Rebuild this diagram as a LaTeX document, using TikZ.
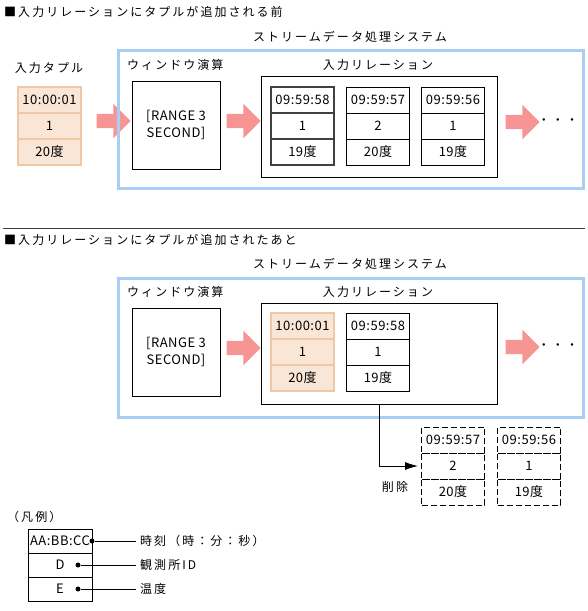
\documentclass[tikz,border=0pt]{standalone}
\usepackage{fontspec}
\setmainfont{Noto Sans CJK JP}[LetterSpace=4]
\newfontfamily\jpwide{Noto Sans CJK JP}[LetterSpace=17]
\usetikzlibrary{arrows.meta}
\usetikzlibrary{shapes.arrows}

\definecolor{sysblue}{HTML}{A9CEF4}
\definecolor{arrowpink}{HTML}{F79595}
\definecolor{newfill}{HTML}{F9E6D6}
\definecolor{newdraw}{HTML}{F0C8A6}

\begin{document}
\begin{tikzpicture}[x = 1pt, y = -1pt, font = \fontsize{13}{15}\selectfont]
	\tikzstyle{titleStyle} = [anchor = west, inner sep = 0pt, font = \jpwide\fontsize{12}{14}\selectfont]
	\tikzstyle{labelStyle} = [inner sep = 0pt, font = \jpwide\fontsize{12}{14}\selectfont]
	\tikzstyle{keyLabel} = [anchor = west, inner sep = 4pt, font = \jpwide\fontsize{12}{14}\selectfont]
	\tikzstyle{sysStyle} = [draw = sysblue, line width = 3pt, minimum width = 465pt, minimum height = 138pt, inner sep = 0pt]
	\tikzstyle{opStyle} = [draw, line width = 1pt, minimum width = 88pt, minimum height = 88pt, inner sep = 0pt, align = center, font = \fontsize{13}{16.5}\selectfont]
	\tikzstyle{relStyle} = [draw, line width = 1pt, minimum width = 236pt, minimum height = 101pt, inner sep = 0pt]
	\tikzstyle{cell} = [draw, line width = 0.9pt, minimum width = 63pt, minimum height = 26pt, inner sep = 0pt]
	\tikzstyle{firstCell} = [cell, draw = black!75, line width = 1.4pt]
	\tikzstyle{newCell} = [cell, draw = newdraw, fill = newfill, line width = 1.2pt]
	\tikzstyle{oldCell} = [cell, dash pattern = on 6pt off 3pt, line width = 1pt]
	\tikzstyle{keyCell} = [cell, minimum width = 64pt, minimum height = 24pt]
	\tikzstyle{bigArrow} = [single arrow, fill = arrowpink, draw = none, inner sep = 7pt, minimum height = 34pt, single arrow head extend = 10pt]
	\tikzstyle{dotStyle} = [circle, fill, inner sep = 0pt, minimum size = 5pt]
	\tikzstyle{delArrow} = [line width = 0.9pt, -{Latex[length = 13pt, width = 8pt]}, shorten > = 3pt]
	\useasboundingbox (0,0) rectangle (588,611);

	\node[titleStyle] (title1) at (4,12) {■入力リレーションにタプルが追加される前};
	\node[labelStyle] (sysLabel1) at (350,37) {ストリームデータ処理システム};
	\node[labelStyle] (inLabel) at (49,68) {入力タプル};
	\node[newCell] (in1) at (49.5,100) {10:00:01};
	\node[newCell] (in2) at (49.5,126) {1};
	\node[newCell] (in3) at (49.5,152) {20度};
	\node[bigArrow] (arrow1) at (110,121) {};
	\node[sysStyle] (sys1) at (350.5,119) {};
	\node[labelStyle, anchor = west] (winLabel1) at (127,65) {ウィンドウ演算};
	\node[opStyle] (win1) at (176,125) {[RANGE 3\\SECOND]};
	\node[bigArrow] (arrow2) at (240,121) {};
	\node[labelStyle] (relLabel1) at (378,65) {入力リレーション};
	\node[relStyle] (rel1) at (379,126.5) {};
	\node[firstCell] (t1a) at (302.5,100) {09:59:58};
	\node[firstCell] (t1b) at (302.5,126) {1};
	\node[firstCell] (t1c) at (302.5,152) {19度};
	\node[cell] (t2a) at (378,100) {09:59:57};
	\node[cell] (t2b) at (378,126) {2};
	\node[cell] (t2c) at (378,152) {20度};
	\node[cell] (t3a) at (453,100) {09:59:56};
	\node[cell] (t3b) at (453,126) {1};
	\node[cell] (t3c) at (453,152) {19度};
	\node[bigArrow] (arrow3) at (519,122) {};
	\node[labelStyle] (more1) at (558,122) {・・・};

	\coordinate (sepL) at (3,228);
	\coordinate (sepR) at (585,228);
	\draw[line width = 1pt, black!75] (sepL) -- (sepR);

	\node[titleStyle] (title2) at (4,240) {■入力リレーションにタプルが追加されたあと};
	\node[labelStyle] (sysLabel2) at (350,264) {ストリームデータ処理システム};
	\node[sysStyle, minimum height = 139pt] (sys2) at (350.5,347.5) {};
	\node[labelStyle, anchor = west] (winLabel2) at (127,292) {ウィンドウ演算};
	\node[opStyle] (win2) at (176,352) {[RANGE 3\\SECOND]};
	\node[bigArrow] (arrow4) at (240,348) {};
	\node[labelStyle] (relLabel2) at (378,292) {入力リレーション};
	\node[relStyle] (rel2) at (379,353.5) {};
	\node[newCell] (u1a) at (302.5,326) {10:00:01};
	\node[newCell] (u1b) at (302.5,352) {1};
	\node[newCell] (u1c) at (302.5,378) {20度};
	\node[cell] (u2a) at (378,326) {09:59:58};
	\node[cell] (u2b) at (378,352) {1};
	\node[cell] (u2c) at (378,378) {19度};
	\node[bigArrow] (arrow5) at (519,347) {};
	\node[labelStyle] (more2) at (558,347) {・・・};

	\node[oldCell] (d1a) at (453,440) {09:59:57};
	\node[oldCell] (d1b) at (453,466) {2};
	\node[oldCell] (d1c) at (453,492) {20度};
	\node[oldCell] (d2a) at (529,440) {09:59:56};
	\node[oldCell] (d2b) at (529,466) {1};
	\node[oldCell] (d2c) at (529,492) {19度};
	\draw[delArrow] (rel2.south) |- (d1b.west);
	\node[labelStyle] (delLabel) at (395,487) {削除};

	\node[labelStyle, anchor = west] (legend) at (7,517) {（凡例）};
	\node[keyCell] (key1) at (60,541) {AA:BB:CC};
	\node[keyCell] (key2) at (60,565) {D};
	\node[keyCell] (key3) at (60,589) {E};
	\node[dotStyle] (dot1) at (92,541) {};
	\node[dotStyle] (dot2) at (78,565) {};
	\node[dotStyle] (dot3) at (78,589) {};
	\node[keyLabel] (desc1) at (136,541) {時刻（時：分：秒）};
	\node[keyLabel] (desc2) at (136,565) {観測所ID};
	\node[keyLabel] (desc3) at (136,589) {温度};
	\draw[line width = 0.8pt] (dot1) -- (desc1);
	\draw[line width = 0.8pt] (dot2) -- (desc2);
	\draw[line width = 0.8pt] (dot3) -- (desc3);
\end{tikzpicture}
\end{document}
